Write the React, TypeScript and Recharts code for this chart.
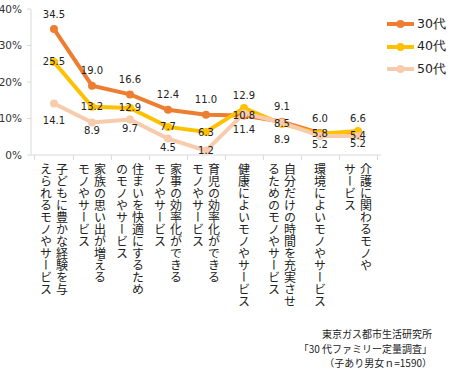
import React from 'react';
import { LineChart, Line, XAxis, YAxis, Legend, LabelList } from 'recharts';

const categories = [
  '子どもに豊かな経験を与\nえられるモノやサービス',
  '家族の思い出が増える\nモノやサービス',
  '住まいを快適にするため\nのモノやサービス',
  '家事の効率化ができる\nモノやサービス',
  '育児の効率化ができる\nモノやサービス',
  '健康によいモノやサービス',
  '自分だけの時間を充実させ\nるためのモノやサービス',
  '環境によいモノやサービス',
  '介護に関わるモノや\nサービス',
];
const values30 = [34.5, 19.0, 16.6, 12.4, 11.0, 10.8, 9.1, 6.0, 5.4];
const values40 = [25.5, 13.2, 12.9, 7.7, 6.3, 12.9, 8.5, 5.8, 6.6];
const values50 = [14.1, 8.9, 9.7, 4.5, 1.2, 11.4, 8.9, 5.2, 5.2];
const yTicks = [0, 10, 20, 30, 40];
const seriesNames = ['30代', '40代', '50代'];
const sourceLines = ['東京ガス都市生活研究所', '「30 代ファミリー定量調査」', '（子あり男女ｎ=1590）'];

// layout only: vertical offset (px) of the 50代 value labels below their points
const labelDrop50 = [17, 8, 9, 9, 0, 16, 17, 8, 7];

const data = categories.map((c, i) => ({
  cat: c,
  s30: values30[i],
  s40: values40[i],
  s50: values50[i],
}));

const COLORS = ['#ED7D31', '#FFC000', '#F8CBAD'];
const NUM_FONT = '"DejaVu Sans", Verdana, sans-serif';
const JP_FONT = '"Noto Sans CJK JP", sans-serif';

const CatTick = (props: any) => {
  const { x, y, payload, index, width, visibleTicksCount } = props;
  const step = width / (visibleTicksCount || categories.length);
  const lines = String(payload.value).split('\n');
  const colGap = 16;
  return (
    <g>
      {index === 0 && <line x1={x - step / 2} x2={x - step / 2} y1={y} y2={y + 5} stroke="#D9D9D9" />}
      <line x1={x + step / 2} x2={x + step / 2} y1={y} y2={y + 5} stroke="#D9D9D9" />
      {lines.map((ln, i) => (
        <text
          key={i}
          x={x + ((lines.length - 1) / 2) * colGap - i * colGap}
          y={y + 8}
          fontSize={12}
          fontFamily={JP_FONT}
          fill="#222"
          style={{ writingMode: 'vertical-rl' } as any}
        >
          {ln}
        </text>
      ))}
    </g>
  );
};

// label placement: higher of 30/40 above the point, the other on it, 50 below
const makeLabel = (series: number) => (props: any) => {
  const { x, y, value, index } = props;
  let dy = 0;
  if (series === 2) dy = labelDrop50[index];
  else {
    const mine = series === 0 ? values30[index] : values40[index];
    const other = series === 0 ? values40[index] : values30[index];
    dy = mine > other ? (series === 0 ? -15 : -12) : 0;
  }
  return (
    <text
      x={x}
      y={y + dy}
      textAnchor="middle"
      dominantBaseline="central"
      fontSize={10}
      fontFamily={NUM_FONT}
      fill="#222"
    >
      {Number(value).toFixed(1)}
    </text>
  );
};

const LegendContent = () => (
  <div style={{ display: 'flex', flexDirection: 'column' }}>
    {seriesNames.map((n, i) => (
      <div key={n} style={{ display: 'flex', alignItems: 'center', height: 22.5 }}>
        <svg width={30} height={12}>
          <line x1={1} x2={28} y1={6} y2={6} stroke={COLORS[i]} strokeWidth={4} />
          <circle cx={14.5} cy={6} r={4} fill={COLORS[i]} />
        </svg>
        <span style={{ fontFamily: NUM_FONT, fontSize: 12.5, color: '#222', marginLeft: 1 }}>{n}</span>
      </div>
    ))}
  </div>
);

export default function App() {
  const keys = ['s30', 's40', 's50'];
  return (
    <div style={{ position: 'absolute', left: 0, top: 0, width: 450, height: 369, background: '#fff' }}>
      <LineChart width={450} height={369} data={data} margin={{ top: 9, right: 5, left: 0, bottom: 0 }}>
        <XAxis
          dataKey="cat"
          height={214}
          interval={0}
          padding={{ left: 23, right: 23 }}
          axisLine={{ stroke: '#D9D9D9' }}
          tickLine={false}
          tickSize={0}
          tickMargin={0}
          tick={<CatTick />}
        />
        <YAxis
          width={31}
          domain={[0, 40]}
          ticks={yTicks}
          interval={0}
          axisLine={{ stroke: '#D9D9D9' }}
          tickLine={{ stroke: '#D9D9D9' }}
          tickSize={4}
          tickMargin={5}
          tickFormatter={(v: number) => `${v}%`}
          tick={{ fontSize: 10.5, fontFamily: NUM_FONT, fill: '#333' }}
        />
        <Legend
          layout="vertical"
          verticalAlign="top"
          align="right"
          content={<LegendContent />}
          wrapperStyle={{ top: 13, left: 386, width: 64 }}
        />
        {keys.map((k, i) => (
          <Line
            key={k}
            dataKey={k}
            name={seriesNames[i]}
            stroke={COLORS[i]}
            strokeWidth={4}
            dot={{ r: 4, fill: COLORS[i], stroke: COLORS[i], strokeWidth: 0 }}
            activeDot={false}
            isAnimationActive={false}
          />
        ))}
        <Line dataKey="s30" stroke="none" dot={false} activeDot={false} legendType="none" isAnimationActive={false}>
          <LabelList dataKey="s30" content={makeLabel(0)} />
        </Line>
        <Line dataKey="s40" stroke="none" dot={false} activeDot={false} legendType="none" isAnimationActive={false}>
          <LabelList dataKey="s40" content={makeLabel(1)} />
        </Line>
        <Line dataKey="s50" stroke="none" dot={false} activeDot={false} legendType="none" isAnimationActive={false}>
          <LabelList dataKey="s50" content={makeLabel(2)} />
        </Line>
      </LineChart>
      <div
        style={{
          position: 'absolute',
          right: 18,
          top: 327,
          textAlign: 'right',
          fontFamily: JP_FONT,
          fontSize: 10,
          lineHeight: '14.5px',
          color: '#222',
        }}
      >
        {sourceLines.map((s) => (
          <div key={s}>{s}</div>
        ))}
      </div>
    </div>
  );
}
